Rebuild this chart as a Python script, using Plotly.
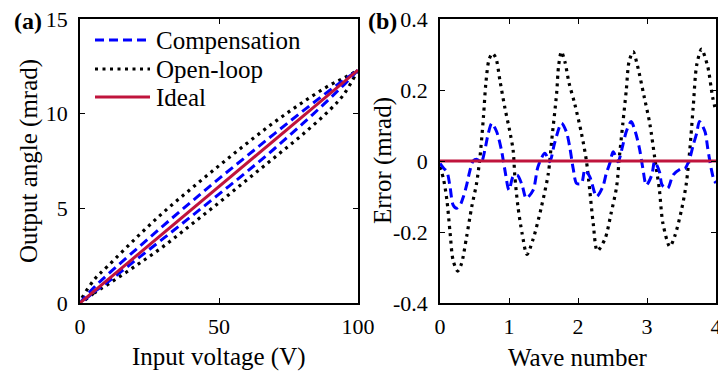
import plotly.graph_objects as go

# ---------------- (a) static input/output curves ----------------
voltage = [0, 5, 10, 20, 30, 40, 50, 60, 70, 80, 90, 95, 100]
# open-loop hysteresis loop: ascending branch (lower) and descending branch (upper)
open_loop_up = [0, 0.515, 0.98, 1.96, 2.99, 4.14, 5.30, 6.50, 7.69, 8.89, 10.22, 11.04, 12.3]
open_loop_down = [0, 1.215, 1.95, 3.41, 4.79, 6.04, 7.25, 8.43, 9.56, 10.59, 11.52, 11.885, 12.3]
# compensated loop
comp_up = [0, 0.565, 1.11, 2.26, 3.41, 4.57, 5.75, 6.93, 8.16, 9.46, 10.82, 11.535, 12.3]
comp_down = [0, 0.815, 1.51, 2.81, 4.09, 5.34, 6.57, 7.76, 8.95, 10.12, 11.25, 11.785, 12.3]
ideal_v = [0, 100]
ideal_out = [0, 12.3]

# ---------------- (b) tracking error ----------------
ol_wave = [0.00, 0.05, 0.10, 0.145, 0.19, 0.255, 0.31, 0.386, 0.46, 0.53, 0.58, 0.63,
           0.665, 0.71, 0.76, 0.81, 0.87, 0.94, 1.01, 1.06, 1.085, 1.13, 1.19, 1.26,
           1.35, 1.47, 1.57, 1.62, 1.69, 1.72, 1.76, 1.81, 1.87, 1.95, 2.05, 2.12,
           2.17, 2.22, 2.28, 2.39, 2.48, 2.56, 2.60, 2.65, 2.70, 2.74, 2.80, 2.86,
           2.96, 3.04, 3.11, 3.18, 3.23, 3.33, 3.40, 3.50, 3.57, 3.62, 3.67, 3.72,
           3.79, 3.88, 3.95, 4.00]
ol_error = [-0.016, -0.05, -0.11, -0.20, -0.28, -0.31, -0.29, -0.213, -0.129, -0.063, 0.012, 0.125,
            0.22, 0.285, 0.303, 0.29, 0.225, 0.15, 0.085, 0.03, -0.044, -0.129, -0.204, -0.263,
            -0.22, -0.129, -0.035, 0.06, 0.19, 0.27, 0.308, 0.28, 0.22, 0.163, 0.078, 0.003,
            -0.082, -0.175, -0.253, -0.22, -0.147, -0.072, 0.012, 0.106, 0.20, 0.28, 0.308, 0.27,
            0.18, 0.106, 0.012, -0.082, -0.175, -0.241, -0.213, -0.138, -0.063, 0.031, 0.153, 0.27,
            0.315, 0.266, 0.181, 0.139]

comp_wave = [0.00, 0.05, 0.10, 0.145, 0.19, 0.24, 0.29, 0.34, 0.386, 0.43, 0.48, 0.53,
             0.60, 0.65, 0.70, 0.75, 0.82, 0.89, 0.94, 1.00, 1.06, 1.12, 1.19, 1.25,
             1.35, 1.42, 1.52, 1.59, 1.66, 1.76, 1.83, 1.88, 1.93, 1.98, 2.05, 2.10,
             2.17, 2.27, 2.36, 2.41, 2.46, 2.51, 2.58, 2.65, 2.70, 2.77, 2.83, 2.89,
             2.94, 2.99, 3.07, 3.11, 3.18, 3.22, 3.30, 3.38, 3.50, 3.55, 3.62, 3.67,
             3.72, 3.76, 3.84, 3.88, 3.93, 3.97, 4.00]
comp_error = [-0.007, -0.02, -0.03, -0.072, -0.124, -0.133, -0.125, -0.10, -0.068, -0.03, 0.0, 0.005,
              -0.002, 0.031, 0.078, 0.106, 0.083, 0.031, -0.025, -0.082, -0.044, -0.04, -0.068, -0.105,
              -0.082, -0.016, 0.022, -0.002, 0.05, 0.106, 0.083, 0.04, -0.021, -0.063, -0.063, -0.025,
              -0.044, -0.10, -0.072, -0.035, -0.007, 0.026, -0.002, 0.045, 0.083, 0.111, 0.083, 0.036,
              -0.021, -0.068, -0.039, -0.002, -0.03, -0.068, -0.077, -0.039, -0.021, -0.021, 0.008, 0.045,
              0.078, 0.111, 0.083, 0.036, -0.021, -0.053, -0.062]
ideal_wave = [0, 4]
ideal_error = [0, 0]

x_ticks_a = [0, 50, 100]
y_ticks_a = [0, 5, 10, 15]
x_ticks_b = [0, 1, 2, 3, 4]
y_ticks_b = [-0.4, -0.2, 0, 0.2, 0.4]
y_ticktext_b = ["-0.4", "-0.2", "0", "0.2", "0.4"]

legend_names = ["Compensation", "Open-loop", "Ideal"]

BLUE = "#0000ff"
BLACK = "#000000"
RED = "#c0143c"
FONT = "Liberation Serif"
W, H = 718, 372
TICK_SIZE = 22
TEXT_SIZE = 25

DOT = dict(color=BLACK, width=3.2, dash="3px,4.5px")
DASH = dict(color=BLUE, width=3, dash="9px,5px")
SOLID = dict(color=RED, width=3)

fig = go.Figure()

# panel (a): loops drawn ascending then descending
fig.add_trace(go.Scatter(x=voltage + voltage[::-1], y=open_loop_up + open_loop_down[::-1],
                         mode="lines", line=dict(**DOT, shape="spline"),
                         xaxis="x", yaxis="y", showlegend=False))
fig.add_trace(go.Scatter(x=voltage + voltage[::-1], y=comp_up + comp_down[::-1],
                         mode="lines", line=dict(**DASH, shape="spline"),
                         xaxis="x", yaxis="y", showlegend=False))
fig.add_trace(go.Scatter(x=ideal_v, y=ideal_out, mode="lines", line=SOLID,
                         xaxis="x", yaxis="y", showlegend=False))

# panel (b)
fig.add_trace(go.Scatter(x=ol_wave, y=ol_error, mode="lines",
                         line=dict(**DOT, shape="spline", smoothing=0.8),
                         xaxis="x2", yaxis="y2", showlegend=False))
fig.add_trace(go.Scatter(x=comp_wave, y=comp_error, mode="lines",
                         line=dict(**DASH, shape="spline", smoothing=0.8),
                         xaxis="x2", yaxis="y2", showlegend=False))
fig.add_trace(go.Scatter(x=ideal_wave, y=ideal_error, mode="lines", line=SOLID,
                         xaxis="x2", yaxis="y2", showlegend=False))


def px(x):
    return x / W


def py(y):
    return 1 - y / H


axis_common = dict(showgrid=False, zeroline=False, showline=True, linecolor=BLACK,
                   linewidth=1.5, mirror="ticks", ticks="inside", ticklen=5,
                   tickwidth=1.2, tickcolor=BLACK, automargin=False,
                   ticklabeloverflow="allow",
                   tickfont=dict(family=FONT, size=TICK_SIZE, color=BLACK))

y_dom = [py(303), py(19)]
fig.update_layout(
    width=W, height=H,
    margin=dict(l=0, r=0, t=0, b=0, autoexpand=False),
    paper_bgcolor="white", plot_bgcolor="white",
    font=dict(family=FONT, size=TICK_SIZE, color=BLACK),
    xaxis=dict(domain=[px(80), px(358)], range=[0, 100], tickvals=x_ticks_a,
               anchor="y", ticklabelstandoff=3, **axis_common),
    yaxis=dict(domain=y_dom, range=[0, 15], tickvals=y_ticks_a,
               anchor="x", ticklabelstandoff=6, **axis_common),
    xaxis2=dict(domain=[px(440), px(716)], range=[0, 4], tickvals=x_ticks_b,
                anchor="y2", ticklabelstandoff=3, **axis_common),
    yaxis2=dict(domain=y_dom, range=[-0.4, 0.4], tickvals=y_ticks_b,
                ticktext=y_ticktext_b, anchor="x2", ticklabelstandoff=6, **axis_common),
)

annotations = [
    dict(text="<b>(a)</b>", x=px(12), y=py(21), xanchor="left", yanchor="middle", size=24),
    dict(text="<b>(b)</b>", x=px(366), y=py(21), xanchor="left", yanchor="middle", size=24),
    dict(text="Input voltage (V)", x=px(219), y=py(357), xanchor="center", yanchor="middle"),
    dict(text="Wave number", x=px(578), y=py(357), xanchor="center", yanchor="middle"),
    dict(text="Output angle (mrad)", x=px(29), y=py(161), xanchor="center",
         yanchor="middle", textangle=-90),
    dict(text="Error (mrad)", x=px(383), y=py(161), xanchor="center",
         yanchor="middle", textangle=-90),
]
for a in annotations:
    size = a.pop("size", TEXT_SIZE)
    a.update(xref="paper", yref="paper", showarrow=False,
             font=dict(family=FONT, size=size, color=BLACK))

# legend block inside panel (a)
legend_rows = [(40, DASH), (69, DOT), (97, SOLID)]
shapes = []
for name, (yy, style) in zip(legend_names, legend_rows):
    shapes.append(dict(type="line", xref="paper", yref="paper",
                       x0=px(95), x1=px(150), y0=py(yy), y1=py(yy),
                       line=dict(color=style["color"], width=style["width"],
                                 dash=style.get("dash", "solid"))))
    annotations.append(dict(text=name, x=px(154), y=py(yy), xref="paper", yref="paper",
                            xanchor="left", yanchor="middle", showarrow=False,
                            font=dict(family=FONT, size=TEXT_SIZE, color=BLACK)))

fig.update_layout(annotations=annotations, shapes=shapes)

fig.write_html("out.html")
